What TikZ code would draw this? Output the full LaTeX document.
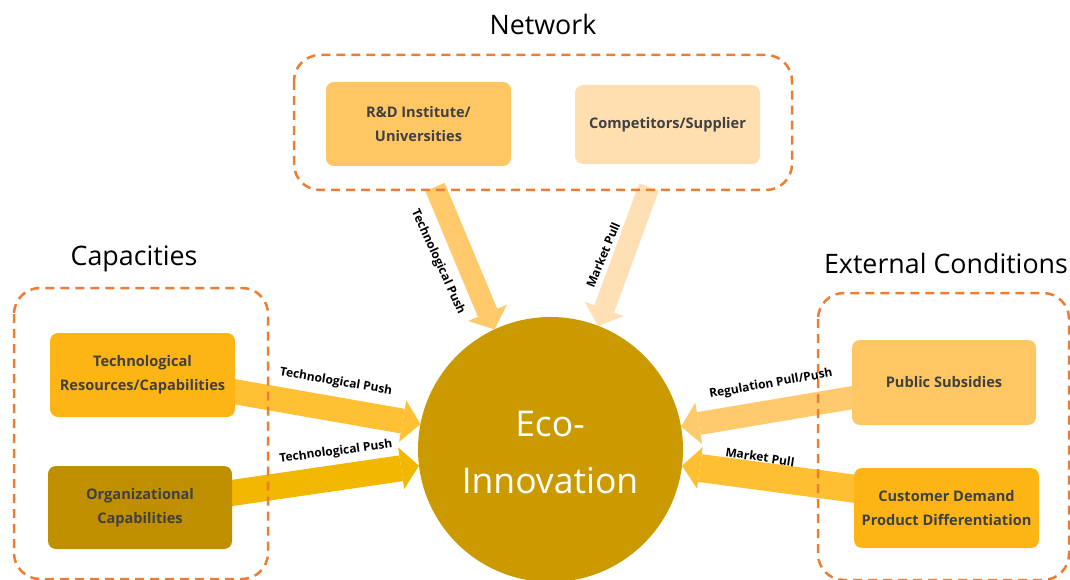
\documentclass[tikz,border=0pt]{standalone}
\usepackage{fontspec}
\setmainfont{Open Sans}
\usetikzlibrary{arrows.meta}
\definecolor{dashc}{HTML}{ED7D31}
\definecolor{txt}{HTML}{404040}
\definecolor{cLight}{HTML}{FFC764}
\definecolor{cPale}{HTML}{FFDEAF}
\definecolor{cGold}{HTML}{FDB515}
\definecolor{cDark}{HTML}{BF8F00}
\definecolor{cCircle}{HTML}{CA9A00}
\definecolor{aRD}{HTML}{FFC96C}
\definecolor{aComp}{HTML}{FFE0B5}
\definecolor{aTech}{HTML}{FFC133}
\definecolor{aOrg}{HTML}{F2B700}
\definecolor{aPub}{HTML}{FFCA6E}
\definecolor{aCust}{HTML}{FFBF33}
\begin{document}
\begin{tikzpicture}[x=1pt,y=-1pt,
  groupbox/.style={draw=dashc, line width=2.5pt, dash pattern=on 9pt off 6pt, rounded corners=26pt},
  title/.style={font=\fontsize{26.8}{30}\selectfont, text=black, inner sep=0pt},
  factor/.style={rounded corners=8pt, inner sep=2pt, align=center, text=txt,
    font=\fontsize{14.6}{24}\selectfont\bfseries},
  fat/.style={-{Triangle[length=18pt,width=42pt,line width=0pt]}},
  lbl/.style={font=\fontsize{12}{13}\selectfont\bfseries, text=black, inner sep=0pt}]
\useasboundingbox (0,0) rectangle (1070,580);
% start coordinates of the arrows
\coordinate (sRD) at (435,187);
\coordinate (sComp) at (649,187);
\coordinate (sTech) at (225,390);
\coordinate (sOrg) at (225,494);
\coordinate (sPub) at (862,396);
\coordinate (sCust) at (864,490);
% central circle
\node[circle, fill=cCircle, minimum size=265pt, inner sep=0pt, outer sep=0pt] (eco) at (550.5,449.5) {};
\node[text=white, align=center, font=\fontsize{35.5}{57}\selectfont, inner sep=0pt] (ecotxt) at (550,452) {Eco-\\Innovation};
% arrows
\draw[fat, line width=21pt, draw=aRD] (sRD) -- (eco.115);
\draw[fat, line width=21pt, draw=aComp] (sComp) -- (eco.69);
\draw[fat, line width=25pt, draw=aTech] (sTech) -- (eco.169);
\draw[fat, line width=26pt, draw=aOrg] (sOrg) -- (eco.187);
\draw[fat, line width=23pt, draw=aPub] (sPub) -- (eco.10);
\draw[fat, line width=28pt, draw=aCust] (sCust) -- (eco.-7);
% dashed groups
\draw[groupbox] (294,55) rectangle (792,190);
\draw[groupbox] (14,288) rectangle (268,579);
\draw[groupbox] (818,293) rectangle (1069,580);
% titles
\node[title, anchor=base] (tNet) at (543,35) {Network};
\node[title, anchor=base] (tCap) at (134,265) {Capacities};
\node[title, anchor=base] (tExt) at (946,273) {External Conditions};
% factor boxes
\node[factor, fill=cLight, minimum width=185pt, minimum height=84pt] (rd) at (418.5,124) {R\&D Institute/\\Universities};
\node[factor, fill=cPale, minimum width=185pt, minimum height=79pt] (comp) at (667.5,124.5) {Competitors/Supplier};
\node[factor, fill=cGold, minimum width=185pt, minimum height=84pt] (tech) at (142.5,375) {Technological\\Resources/Capabilities};
\node[factor, fill=cDark, minimum width=184pt, minimum height=83pt] (org) at (140,507.5) {Organizational\\Capabilities};
\node[factor, fill=cLight, minimum width=184pt, minimum height=85pt] (pub) at (944,382.5) {Public Subsidies};
\node[factor, fill=cGold, minimum width=185pt, minimum height=80pt] (cust) at (946.5,508) {Customer Demand\\Product Differentiation};
% arrow labels
\node[lbl, rotate=-65.5] (lRD) at (438,262) {Technological Push};
\node[lbl, rotate=67.4] (lComp) at (603,255) {Market Pull};
\node[lbl, rotate=-9.6] (lTech) at (336,382) {Technological Push};
\node[lbl, rotate=7.6] (lOrg) at (336,452) {Technological Push};
\node[lbl, rotate=10] (lPub) at (771,384) {Regulation Pull/Push};
\node[lbl, rotate=-8.6] (lCust) at (760,457) {Market Pull};
\end{tikzpicture}
\end{document}
